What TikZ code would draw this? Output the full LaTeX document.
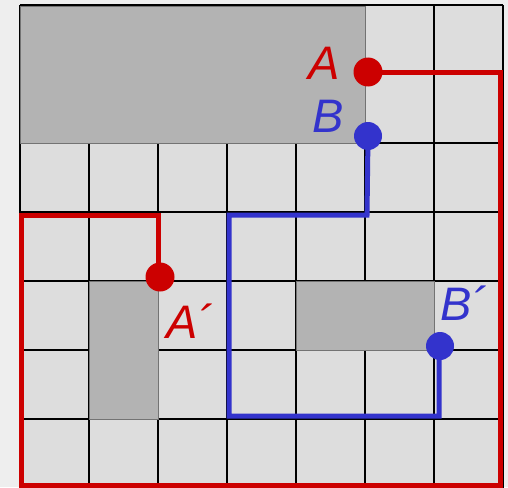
\documentclass[tikz,border=0pt]{standalone}
\usepackage{fontspec}
\setmainfont{Liberation Sans}
\definecolor{bgc}{HTML}{EEEEEE}
\definecolor{cellc}{HTML}{DDDDDD}
\definecolor{obsc}{HTML}{B3B3B3}
\definecolor{redc}{HTML}{CC0000}
\definecolor{bluec}{HTML}{3333CC}
\tikzset{
  gridline/.style={black, line width=1.6pt},
  obstacle/.style={fill=obsc, draw=black!55, line width=0.8pt},
  redpath/.style={redc, line width=5pt, line join=miter},
  bluepath/.style={bluec, line width=5pt, line join=miter},
  reddot/.style={circle, fill=redc, minimum size=29pt, inner sep=0pt},
  bluedot/.style={circle, fill=bluec, minimum size=28pt, inner sep=0pt},
  lbl/.style={anchor=base west, inner sep=0pt, font=\fontsize{47}{50}\selectfont\itshape}
}
\begin{document}
\begin{tikzpicture}[x=1pt, y=-1pt]
\useasboundingbox (0,0) rectangle (508,487);
\fill[bgc] (0,0) rectangle (508,487);
\fill[cellc] (20,5) rectangle (503,488);
\foreach \i in {0,...,7} {
  \draw[gridline] ({20+69*\i},5) -- ({20+69*\i},488);
  \draw[gridline] (20,{5+69*\i}) -- (503,{5+69*\i});
}
\draw[black, line width=2.5pt] (20,5) -- (503,5);
% obstacles
\draw[obstacle] (20,6) rectangle (365,143);
\draw[obstacle] (89,281) rectangle (158,419);
\draw[obstacle] (296,281) rectangle (434,350);
% points
\coordinate (A0) at (368,72);
\coordinate (Ap0) at (160,277);
\coordinate (B0) at (368,136);
\coordinate (Bp0) at (440,346);
\coordinate (r1) at (500,72);
\coordinate (r2) at (500,485);
\coordinate (r3) at (21,485);
\coordinate (r4) at (21,215);
\coordinate (r5) at (158,215);
\coordinate (r6) at (158,277);
\coordinate (b1) at (367,215);
\coordinate (b2) at (229,215);
\coordinate (b3) at (229,416);
\coordinate (b4) at (439,416);
\coordinate (b5) at (439,346);
% paths
\draw[redpath] (A0) -- (r1) -- (r2) -- (r3) -- (r4) -- (r5) -- (r6);
\draw[bluepath] (B0) -- (b1) -- (b2) -- (b3) -- (b4) -- (b5);
% dots
\node[reddot] (A) at (A0) {};
\node[reddot] (Ap) at (Ap0) {};
\node[bluedot] (B) at (B0) {};
\node[bluedot] (Bp) at (Bp0) {};
% labels
\node[lbl, text=redc] (lA) at (308,79) {A};
\node[lbl, text=bluec] (lB) at (312,132) {B};
\node[lbl, text=redc] (lAp) at (166,338) {A´};
\node[lbl, text=bluec] (lBp) at (440,320) {B´};
\end{tikzpicture}
\end{document}
